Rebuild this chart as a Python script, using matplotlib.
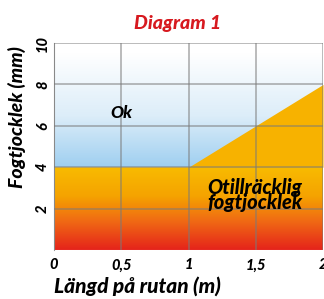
import matplotlib.pyplot as plt
import numpy as np
from matplotlib.colors import LinearSegmentedColormap
from matplotlib.patches import Polygon

# boundary between "Ok" and "Otillräcklig" regions
edge_x = [0, 1, 2]
edge_y = [4, 4, 8]

x_ticks = [0, 0.5, 1, 1.5, 2]
x_labels = ["0", "0,5", "1", "1,5", "2"]
y_ticks = [2, 4, 6, 8, 10]

font = "Lato"
plt.rcParams["font.family"] = [font, "DejaVu Sans"]
W = "black"

fig = plt.figure(figsize=(3.24, 2.99), dpi=100)
ax = fig.add_axes([0.167, 0.164, 0.83, 0.692])
ax.set_xlim(0, 2)
ax.set_ylim(0, 10)

# blue gradient above boundary
blue = LinearSegmentedColormap.from_list(
    "b", [(0, "#9fcff0"), (0.45, "#dcedf9"), (1, "#ffffff")]
)
grad = np.linspace(0, 1, 256).reshape(-1, 1)
ax.imshow(grad, extent=[0, 2, 4, 9.5], origin="lower", cmap=blue,
          aspect="auto", zorder=0)

# orange/red gradient below boundary
warm = LinearSegmentedColormap.from_list(
    "w", [(0, "#e5231b"), (0.35, "#f06a14"), (0.65, "#f5a300"),
          (1, "#f8bb00")]
)
img = ax.imshow(grad, extent=[0, 2, 0, 4], origin="lower", cmap=warm,
                aspect="auto", zorder=1)
poly = Polygon(list(zip(edge_x, edge_y)) + [(2, 0), (0, 0)], closed=True,
               transform=ax.transData)
img.set_clip_path(poly)
ax.fill_between(edge_x, 4, edge_y, color="#f7b200", lw=0, zorder=1)

ax.set_xticks(x_ticks)
ax.set_xticklabels(x_labels)
ax.set_yticks(y_ticks)
ax.grid(True, color="#7a7a7a", lw=1.3, alpha=0.55, zorder=2)
ax.set_axisbelow(False)
for s in ax.spines.values():
    s.set_visible(False)
ax.spines["left"].set_visible(True)
ax.spines["left"].set_color("#999999")
ax.tick_params(length=0, labelsize=10.5)
ax.tick_params(axis="x", pad=6)
ax.tick_params(axis="y", pad=3)
for t in ax.get_xticklabels() + ax.get_yticklabels():
    t.set_fontweight(W)
    t.set_fontstyle("italic")
for t in ax.get_yticklabels():
    t.set_rotation(90)
    t.set_va("center")

ax.text(0.5, 6.6, "Ok", fontsize=12.5, fontweight=W, style="italic",
        ha="center", va="center", zorder=3)
ax.text(1.14, 2.65, "Otillräcklig\nfogtjocklek", fontsize=14.5,
        fontweight=W, style="italic", ha="left", va="center",
        linespacing=0.72, zorder=3)

ax.set_title("Diagram 1", color="#d7191f", fontsize=14, fontweight=W,
             style="italic", x=0.46, pad=10)
ax.set_xlabel("Längd på rutan (m)", fontsize=15, fontweight=W,
              style="italic", loc="left", labelpad=3)
ax.set_ylabel("Fogtjocklek (mm)", fontsize=14, fontweight=W,
              style="italic")
ax.yaxis.set_label_coords(-0.105, 0.64)

plt.savefig("out.png", dpi=100)
